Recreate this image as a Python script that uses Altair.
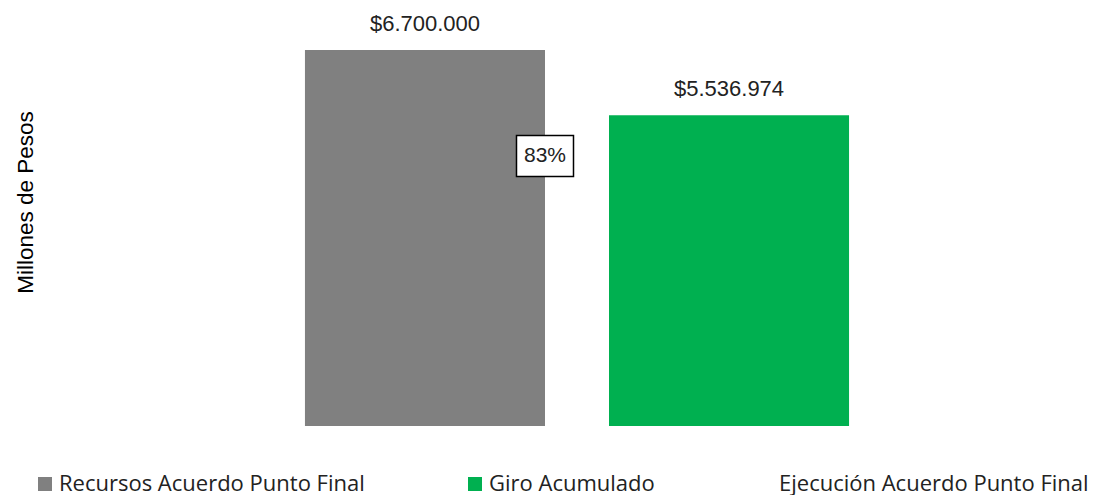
import altair as alt
import pandas as pd

# ---- data ----
categorias = ["Recursos Acuerdo Punto Final", "Giro Acumulado"]
valores = [6700000, 5536974]
colores = ["#808080", "#00B050"]
serie_ejecucion = "Ejecución Acuerdo Punto Final"
ejecucion_pos = [4810000]  # vertical anchor of the execution data label


def fmt(v):
    return "$" + f"{v:,.0f}".replace(",", ".")


df = pd.DataFrame({"cat": categorias, "valor": valores,
                   "etiqueta": [fmt(v) for v in valores]})
pct = round(valores[1] / valores[0] * 100)
df_pct = pd.DataFrame({"cat": [categorias[0]], "valor": ejecucion_pos,
                       "etiqueta": [f"{pct}%"]})

FONT = "Liberation Sans"
LEG_FONT = "Open Sans"

x = alt.X("cat:N", sort=categorias, axis=None,
          scale=alt.Scale(paddingInner=0.2105, paddingOuter=0.605))
y = alt.Y("valor:Q", scale=alt.Scale(domain=[0, 6700000], nice=False),
          axis=alt.Axis(title="Millones de Pesos", labels=False, ticks=False,
                        domain=False, grid=False, titleFont=FONT,
                        titleFontSize=22.5, titleFontWeight="normal",
                        titleColor="#000", titleX=-96, titleY=152,
                        titleAngle=-90, titleAlign="center",
                        titleBaseline="middle"))

bars = alt.Chart(df).mark_bar().encode(
    x=x, y=y,
    color=alt.Color("cat:N",
                    scale=alt.Scale(domain=categorias + [serie_ejecucion],
                                    range=colores + ["rgba(0,0,0,0)"]),
                    legend=alt.Legend(title=None, orient="none", legendX=-87,
                                      legendY=423, direction="horizontal",
                                      columns=3, columnPadding=99,
                                      symbolType="square", symbolSize=196,
                                      symbolStrokeWidth=0, labelFont=LEG_FONT,
                                      labelFontSize=22, labelColor="#222",
                                      labelLimit=0, labelOffset=3)),
)

labels = alt.Chart(df).mark_text(baseline="bottom", dy=-14, fontSize=22,
                                 font=FONT, color="#222").encode(
    x=x, y=y, text="etiqueta:N")

xb = alt.X("cat:N", sort=categorias, bandPosition=1)
box = alt.Chart(df_pct).mark_point(
    shape="M-1,-0.72L1,-0.72L1,0.72L-1,0.72Z", size=3249, filled=True,
    fill="white", stroke="black", strokeWidth=1.5, opacity=1).encode(
    x=xb, y=y)
pct_text = alt.Chart(df_pct).mark_text(fontSize=21, font=FONT,
                                       color="#222").encode(
    x=xb, y=y, text="etiqueta:N")

chart = alt.layer(bars, labels, box, pct_text).properties(
    width=912, height=376,
    autosize=alt.AutoSizeParams(type="none"),
    padding={"left": 113, "top": 42, "right": 58, "bottom": 70},
).configure_view(stroke=None)

chart.save("out.html", embed_options={"renderer": "svg", "actions": False})
